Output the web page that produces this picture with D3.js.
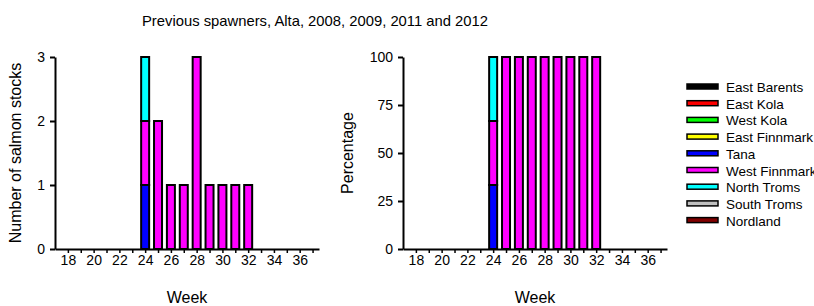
<!DOCTYPE html>
<html>
<head>
<meta charset="utf-8">
<script src="https://cdn.jsdelivr.net/npm/d3@7"></script>
<style>
  body { margin: 0; background: #fff; }
  text { font-family: Arial, "Liberation Sans", sans-serif; fill: #000; }
</style>
</head>
<body>
<svg id="chart" width="814" height="306"></svg>
<script>
// stocks shown in the legend, in legend order
var stocks = ["East Barents", "East Kola", "West Kola", "East Finnmark", "Tana",
              "West Finnmark", "North Troms", "South Troms", "Nordland"];
var stockColors = ["#000000", "#ff0000", "#00ff00", "#ffff00", "#0000ff",
                   "#ff00ff", "#00ffff", "#c0c0c0", "#800000"];

var weeks = [24, 25, 26, 27, 28, 29, 30, 31, 32];
// counts per stock (index matches weeks)
var tana         = [1, 0, 0, 0, 0, 0, 0, 0, 0];
var westFinnmark = [1, 2, 1, 1, 3, 1, 1, 1, 1];
var northTroms   = [1, 0, 0, 0, 0, 0, 0, 0, 0];

var weekTicks = [18, 20, 22, 24, 26, 28, 30, 32, 34, 36];
var countTicks = [0, 1, 2, 3];
var pctTicks = [0, 25, 50, 75, 100];

var svg = d3.select("#chart");

svg.append("text")
    .attr("x", 315)
    .attr("y", 26)
    .attr("text-anchor", "middle")
    .attr("font-size", "14.8px")
    .text("Previous spawners, Alta, 2008, 2009, 2011 and 2012");

// build stacked rows
var rows = weeks.map(function (w, i) {
    var total = tana[i] + westFinnmark[i] + northTroms[i];
    return { week: w, Tana: tana[i], "West Finnmark": westFinnmark[i],
             "North Troms": northTroms[i], total: total };
});
var pctRows = rows.map(function (r) {
    return { week: r.week, Tana: r.Tana / r.total * 100,
             "West Finnmark": r["West Finnmark"] / r.total * 100,
             "North Troms": r["North Troms"] / r.total * 100 };
});

var stackKeys = ["Tana", "West Finnmark", "North Troms"];
var color = d3.scaleOrdinal().domain(stocks).range(stockColors);

function drawPanel(left, data, yMax, yTicks, yLabel, yLabelX) {
    var top = 57, bottom = 249, right = left + 264;
    var x = d3.scaleLinear().domain([17, 37.5]).range([left, right]);
    var y = d3.scaleLinear().domain([0, yMax]).range([bottom, top]);

    var g = svg.append("g");
    var series = d3.stack().keys(stackKeys)(data);

    series.forEach(function (s) {
        g.selectAll(null)
            .data(s.filter(function (d) { return d[1] - d[0] > 0; }))
            .enter()
            .append("rect")
            .attr("x", function (d) { return x(d.data.week) - 4; })
            .attr("y", function (d) { return y(d[1]); })
            .attr("width", 8)
            .attr("height", function (d) { return y(d[0]) - y(d[1]); })
            .attr("fill", color(s.key))
            .attr("stroke", "#000")
            .attr("stroke-width", 2);
    });

    // x axis: tick every week, label every second week
    var xAxis = d3.axisBottom(x)
        .tickValues(d3.range(18, 38))
        .tickSize(4)
        .tickSizeOuter(0)
        .tickFormat(function (d) { return weekTicks.indexOf(d) >= 0 ? d : ""; });
    var xg = g.append("g")
        .attr("transform", "translate(0," + bottom + ")")
        .call(xAxis);
    xg.select(".domain").attr("stroke-width", 2);
    xg.selectAll(".tick line").attr("stroke-width", 1.5);
    xg.selectAll("text").attr("font-size", "14px").attr("y", 6).attr("dy", "0.71em");

    var yAxis = d3.axisLeft(y)
        .tickValues(yTicks)
        .tickSize(5)
        .tickSizeOuter(0)
        .tickFormat(d3.format("d"));
    var yg = g.append("g")
        .attr("transform", "translate(" + left + ",0)")
        .call(yAxis);
    yg.select(".domain").attr("stroke-width", 2);
    yg.selectAll(".tick line").attr("stroke-width", 2);
    yg.selectAll("text").attr("font-size", "14px").attr("x", -10);

    g.append("text")
        .attr("x", (left + right) / 2)
        .attr("y", 303)
        .attr("text-anchor", "middle")
        .attr("font-size", "16px")
        .text("Week");

    g.append("text")
        .attr("transform", "translate(" + yLabelX + "," + ((top + bottom) / 2) + ") rotate(-90)")
        .attr("text-anchor", "middle")
        .attr("font-size", "16px")
        .text(yLabel);
}

drawPanel(55, rows, 3, countTicks, "Number of salmon stocks", 21);
drawPanel(403, pctRows, 100, pctTicks, "Percentage", 353);

// legend
var legend = svg.append("g");
stocks.forEach(function (s, i) {
    var yy = 87 + i * 16.7;
    legend.append("rect")
        .attr("x", 687)
        .attr("y", yy - 3)
        .attr("width", 31)
        .attr("height", 5)
        .attr("fill", color(s))
        .attr("stroke", "#000")
        .attr("stroke-width", 1.5);
    legend.append("text")
        .attr("x", 726)
        .attr("y", yy + 5)
        .attr("font-size", "13.5px")
        .text(s);
});
</script>
</body>
</html>
